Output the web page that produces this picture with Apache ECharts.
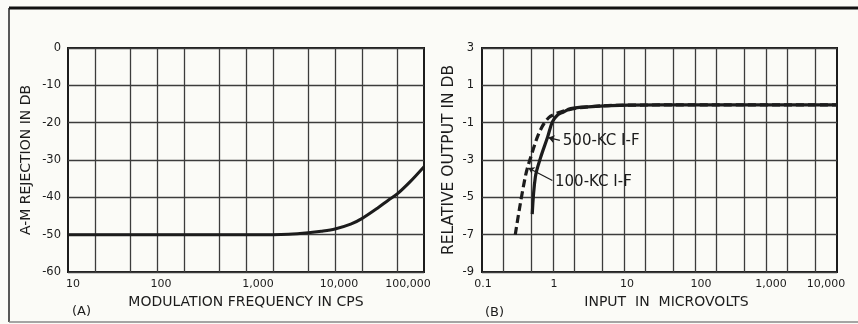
<!DOCTYPE html>
<html>
<head>
<meta charset="utf-8">
<script src="https://cdn.jsdelivr.net/npm/echarts@6/dist/echarts.min.js"></script>
<style>
  html, body { margin: 0; padding: 0; background: #fbfbf7; }
  #chart { width: 858px; height: 324px; }
</style>
</head>
<body>
<div id="chart"></div>
<script>
// (A) A-M rejection versus modulation frequency
const freqCps = [10, 100, 1000, 2000, 3000, 5000, 7000, 10000, 15000, 20000, 30000, 40000, 50000, 70000, 100000];
const rejectionDb = [-50, -50, -50, -50, -49.9, -49.5, -49.1, -48.5, -47.2, -45.7, -42.9, -40.7, -39.1, -35.8, -31.8];

// (B) relative output versus input, two I-F strips
const input500kc = [0.51, 0.565, 0.665, 0.84, 0.98, 1.16, 1.4, 1.77, 3.1, 11.4, 100, 10000];
const output500kc = [-5.9, -3.9, -2.9, -1.77, -0.96, -0.59, -0.43, -0.25, -0.15, -0.06, -0.05, -0.05];
const input100kc = [0.294, 0.407, 0.512, 0.665, 0.86, 1.08, 1.6, 3.1, 11.4, 100, 10000];
const output100kc = [-7, -3.9, -2.57, -1.39, -0.75, -0.53, -0.32, -0.15, -0.06, -0.05, -0.05];

// graph-paper rulings (1-2-5 per decade) and tick labels
const gridFreqA = [10, 20, 50, 100, 200, 500, 1000, 2000, 5000, 10000, 20000, 50000, 100000];
const gridInputB = [0.1, 0.2, 0.5, 1, 2, 5, 10, 20, 50, 100, 200, 500, 1000, 2000, 5000, 10000];
const tickLabelsA = ['10', '100', '1,000', '10,000', '100,000'];
const tickLabelsB = ['0.1', '1', '10', '100', '1,000', '10,000'];

const labelA = '500-KC I-F';
const labelB = '100-KC I-F';

const INK = '#1c1c1c';
const RULE = '#3c3c3c';
const FONT = 'DejaVu Sans';

// horizontal nudges of the hand-lettered tick labels (px, + = right)
const nudgeA = [5, 4, 12, 4, -16];
const nudgeB = [1, 1, 3, 6, 5, -11];

function richFor(nudges) {
  const r = {};
  nudges.forEach((n, i) => {
    r['t' + i] = {
      fontFamily: FONT, fontSize: 11, color: INK,
      padding: n >= 0 ? [0, 0, 0, 2 * n] : [0, -2 * n, 0, 0]
    };
  });
  return r;
}
function logLabel(labels, firstExp) {
  return v => {
    const i = Math.round(Math.log10(v)) - firstExp;
    return labels[i] !== undefined ? '{t' + i + '|' + labels[i] + '}' : '';
  };
}

const rulingLine = { color: RULE, width: 1.3, type: 'solid' };

const chart = echarts.init(document.getElementById('chart'), null, { renderer: 'canvas' });

chart.setOption({
  backgroundColor: '#fbfbf7',
  animation: false,
  grid: [
    { left: 68, top: 48, width: 356, height: 224, show: true, borderColor: INK, borderWidth: 2, backgroundColor: 'transparent' },
    { left: 482, top: 48, width: 355, height: 224, show: true, borderColor: INK, borderWidth: 2, backgroundColor: 'transparent' }
  ],
  xAxis: [
    {
      gridIndex: 0, type: 'log', logBase: 10, min: 10, max: 100000,
      axisLine: { show: false }, axisTick: { show: false }, splitLine: { show: false },
      axisLabel: { margin: 7, formatter: logLabel(tickLabelsA, 1), rich: richFor(nudgeA), showMinLabel: true, showMaxLabel: true },
      name: 'MODULATION FREQUENCY IN CPS', nameLocation: 'middle', nameGap: 23,
      nameTextStyle: { fontFamily: FONT, fontSize: 14, color: INK }
    },
    {
      gridIndex: 1, type: 'log', logBase: 10, min: 0.1, max: 10000,
      axisLine: { show: false }, axisTick: { show: false }, splitLine: { show: false },
      axisLabel: { margin: 7, formatter: logLabel(tickLabelsB, -1), rich: richFor(nudgeB), showMinLabel: true, showMaxLabel: true },
      name: 'INPUT  IN  MICROVOLTS', nameLocation: 'middle', nameGap: 23,
      nameTextStyle: { fontFamily: FONT, fontSize: 14, color: INK, padding: [0, 0, 0, 14] }
    }
  ],
  yAxis: [
    {
      gridIndex: 0, type: 'value', min: -60, max: 0, interval: 10,
      axisLine: { show: false }, axisTick: { show: false },
      splitLine: { show: true, lineStyle: rulingLine },
      axisLabel: { margin: 7, fontFamily: FONT, fontSize: 11.5, color: INK },
      name: 'A-M REJECTION IN DB', nameLocation: 'middle', nameGap: 35, nameRotate: 90,
      nameTextStyle: { fontFamily: FONT, fontSize: 14, color: INK }
    },
    {
      gridIndex: 1, type: 'value', min: -9, max: 3, interval: 2,
      axisLine: { show: false }, axisTick: { show: false },
      splitLine: { show: true, lineStyle: rulingLine },
      axisLabel: { margin: 8, fontFamily: FONT, fontSize: 11.5, color: INK },
      name: 'RELATIVE OUTPUT IN DB', nameLocation: 'middle', nameGap: 25, nameRotate: 90,
      nameTextStyle: { fontFamily: FONT, fontSize: 15.5, color: INK }
    }
  ],
  series: [
    {
      name: 'rejection', type: 'line', xAxisIndex: 0, yAxisIndex: 0,
      data: freqCps.map((f, i) => [f, rejectionDb[i]]),
      smooth: 0.3, showSymbol: false, lineStyle: { color: INK, width: 3 }, z: 3,
      markLine: {
        silent: true, symbol: 'none', label: { show: false },
        lineStyle: rulingLine, z: 1,
        data: gridFreqA.slice(1, -1).map(v => ({ xAxis: v }))
      }
    },
    {
      name: labelA, type: 'line', xAxisIndex: 1, yAxisIndex: 1,
      data: input500kc.map((x, i) => [x, output500kc[i]]),
      smooth: 0.35, showSymbol: false, lineStyle: { color: INK, width: 3.2 }, z: 3,
      markLine: {
        silent: true, symbol: 'none', label: { show: false },
        lineStyle: rulingLine, z: 1,
        data: gridInputB.slice(1, -1).map(v => ({ xAxis: v }))
      }
    },
    {
      name: labelB, type: 'line', xAxisIndex: 1, yAxisIndex: 1,
      data: input100kc.map((x, i) => [x, output100kc[i]]),
      smooth: 0.35, showSymbol: false, lineStyle: { color: INK, width: 3.2, type: [8, 4] }, z: 3
    },
    {
      // leader lines pointing labels at their curves
      name: 'leaders', type: 'line', xAxisIndex: 1, yAxisIndex: 1, data: [], z: 4,
      markLine: {
        silent: true, symbol: ['arrow', 'none'], symbolSize: 6,
        lineStyle: { color: INK, width: 1.2, type: 'solid' },
        label: { show: true, position: 'end', distance: 3, fontFamily: FONT, fontSize: 15, color: INK },
        data: [
          [{ coord: [0.86, -1.8] }, { coord: [1.25, -1.95], label: { formatter: labelA } }],
          [{ coord: [0.45, -3.43] }, { coord: [0.98, -4.1], label: { formatter: labelB } }]
        ]
      }
    }
  ],
  graphic: [
    { type: 'line', shape: { x1: 9, y1: 8, x2: 858, y2: 8 }, style: { stroke: '#111', lineWidth: 3 } },
    { type: 'line', shape: { x1: 9, y1: 8, x2: 9, y2: 322 }, style: { stroke: '#222', lineWidth: 1.5 } },
    { type: 'line', shape: { x1: 9, y1: 322, x2: 858, y2: 322 }, style: { stroke: '#888', lineWidth: 1.5 } },
    { type: 'text', left: 72, top: 305, style: { text: '(A)', fontFamily: FONT, fontSize: 13, fill: INK } },
    { type: 'text', left: 485, top: 306, style: { text: '(B)', fontFamily: FONT, fontSize: 13, fill: INK } }
  ]
});
</script>
</body>
</html>
